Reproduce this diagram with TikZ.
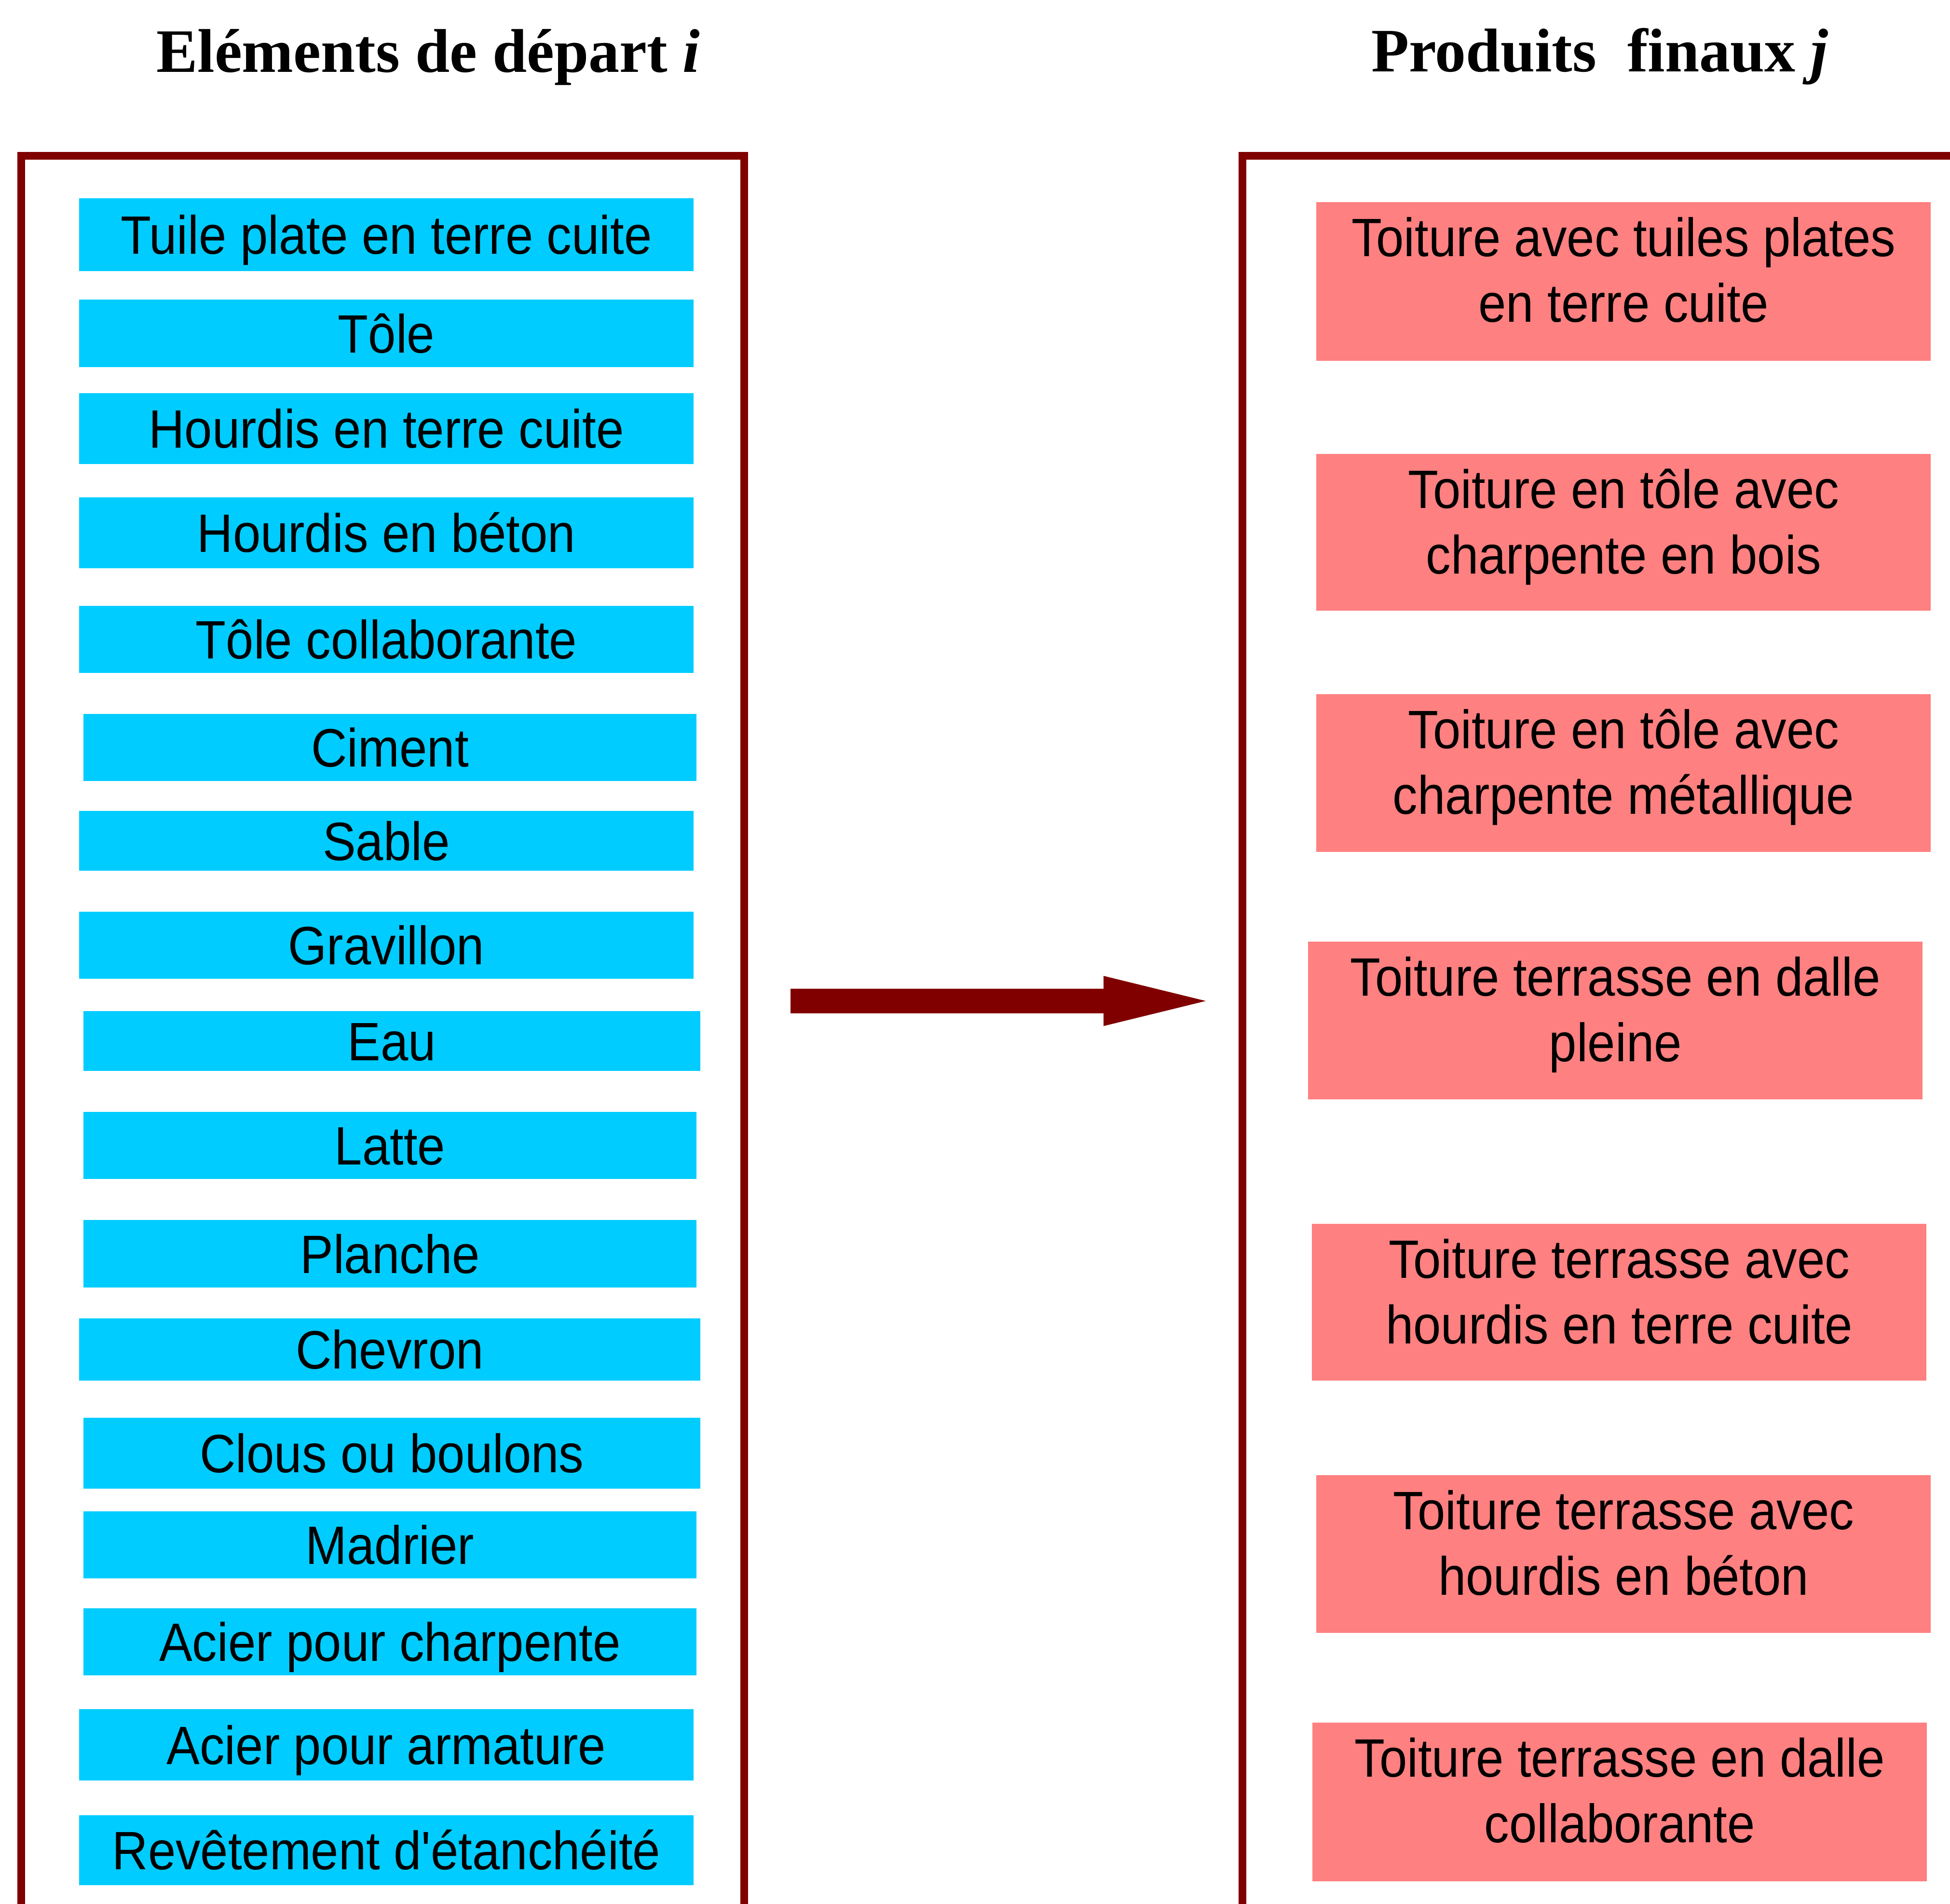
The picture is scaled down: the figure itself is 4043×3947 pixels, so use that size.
\documentclass[tikz,border=0pt]{standalone}
\usepackage{fontspec}
\setmainfont{Liberation Serif}
\newfontfamily\boxfont[FakeStretch=0.92]{Liberation Sans}
\definecolor{boxblue}{HTML}{00CCFF}
\definecolor{boxpink}{HTML}{FF8080}
\definecolor{framered}{HTML}{800000}
\begin{document}
\begin{tikzpicture}[x=1pt,y=-1pt,
  bluebox/.style={fill=boxblue, draw=none, inner sep=0pt, text=black,
    font=\boxfont\fontsize{112}{136}\selectfont, text height=80pt, text depth=0pt},
  pinkbox/.style={fill=boxpink, draw=none, inner sep=0pt, anchor=north west,
    minimum width=1274pt},
  ptext/.style={anchor=base, inner sep=0pt, text=black,
    font=\boxfont\fontsize{112}{136}\selectfont},
  titletext/.style={anchor=base west, inner sep=0pt,
    font=\bfseries\fontsize{128}{150}\selectfont},
  framestyle/.style={draw=framered, line width=16pt}
]
\useasboundingbox (0,0) rectangle (4043,3947);
\clip (0,0) rectangle (4043,3947);

% titles
\node[titletext] (t1) at (324,150) {Eléments de départ \textit{i}};
\node[titletext] (t2) at (2843,149) {Produits\ \ finaux \textit{j}};

% frames
\draw[framestyle] (44,3980) -- (44,323) -- (1543,323) -- (1543,3980);
\draw[framestyle] (2576,3980) -- (2576,323) -- (4080,323);

% left elements
\node[bluebox, minimum width=1274pt, minimum height=151pt] (b1) at (801,486.5) {Tuile plate en terre cuite};
\node[bluebox, minimum width=1274pt, minimum height=140pt] (b2) at (801,691) {Tôle};
\node[bluebox, minimum width=1274pt, minimum height=147pt] (b3) at (801,888.5) {Hourdis en terre cuite};
\node[bluebox, minimum width=1274pt, minimum height=147pt] (b4) at (801,1104.5) {Hourdis en béton};
\node[bluebox, minimum width=1274pt, minimum height=139pt] (b5) at (801,1325.5) {Tôle collaborante};
\node[bluebox, minimum width=1271pt, minimum height=139pt] (b6) at (808.5,1549.5) {Ciment};
\node[bluebox, minimum width=1274pt, minimum height=124pt] (b7) at (801,1743) {Sable};
\node[bluebox, minimum width=1274pt, minimum height=139pt] (b8) at (801,1959.5) {Gravillon};
\node[bluebox, minimum width=1279pt, minimum height=124pt] (b9) at (812.5,2158) {Eau};
\node[bluebox, minimum width=1271pt, minimum height=139pt] (b10) at (808.5,2374.5) {Latte};
\node[bluebox, minimum width=1271pt, minimum height=140pt] (b11) at (808.5,2599) {Planche};
\node[bluebox, minimum width=1288pt, minimum height=129pt] (b12) at (808,2797.5) {Chevron};
\node[bluebox, minimum width=1279pt, minimum height=147pt] (b13) at (812.5,3012.5) {Clous ou boulons};
\node[bluebox, minimum width=1271pt, minimum height=139pt] (b14) at (808.5,3202.5) {Madrier};
\node[bluebox, minimum width=1271pt, minimum height=139pt] (b15) at (808.5,3403.5) {Acier pour charpente};
\node[bluebox, minimum width=1274pt, minimum height=148pt] (b16) at (801,3617) {Acier pour armature};
\node[bluebox, minimum width=1274pt, minimum height=145pt] (b17) at (801,3835.5) {Revêtement d'étanchéité};

% arrow
\coordinate (arrowtail) at (1639,2075);
\coordinate (arrowtip) at (2500,2075);
\fill[framered] (1639,2049.5) -- (2288,2049.5) -- (2288,2023) -- (arrowtip)
  -- (2288,2127) -- (2288,2100.5) -- (1639,2100.5) -- cycle;

% right products
\node[pinkbox, minimum height=329pt] (p1) at (2729,419) {};
\node[ptext] at ([yshift=-112pt]p1.north) {Toiture avec tuiles plates};
\node[ptext] at ([yshift=-248pt]p1.north) {en terre cuite};

\node[pinkbox, minimum height=325pt] (p2) at (2729,941) {};
\node[ptext] at ([yshift=-112pt]p2.north) {Toiture en tôle avec};
\node[ptext] at ([yshift=-248pt]p2.north) {charpente en bois};

\node[pinkbox, minimum height=327pt] (p3) at (2729,1439) {};
\node[ptext] at ([yshift=-112pt]p3.north) {Toiture en tôle avec};
\node[ptext] at ([yshift=-248pt]p3.north) {charpente métallique};

\node[pinkbox, minimum height=327pt] (p4) at (2712,1952) {};
\node[ptext] at ([yshift=-112pt]p4.north) {Toiture terrasse en dalle};
\node[ptext] at ([yshift=-248pt]p4.north) {pleine};

\node[pinkbox, minimum height=325pt] (p5) at (2720,2537) {};
\node[ptext] at ([yshift=-112pt]p5.north) {Toiture terrasse avec};
\node[ptext] at ([yshift=-248pt]p5.north) {hourdis en terre cuite};

\node[pinkbox, minimum height=327pt] (p6) at (2729,3058) {};
\node[ptext] at ([yshift=-112pt]p6.north) {Toiture terrasse avec};
\node[ptext] at ([yshift=-248pt]p6.north) {hourdis en béton};

\node[pinkbox, minimum height=329pt] (p7) at (2721,3571) {};
\node[ptext] at ([yshift=-112pt]p7.north) {Toiture terrasse en dalle};
\node[ptext] at ([yshift=-248pt]p7.north) {collaborante};
\end{tikzpicture}
\end{document}
